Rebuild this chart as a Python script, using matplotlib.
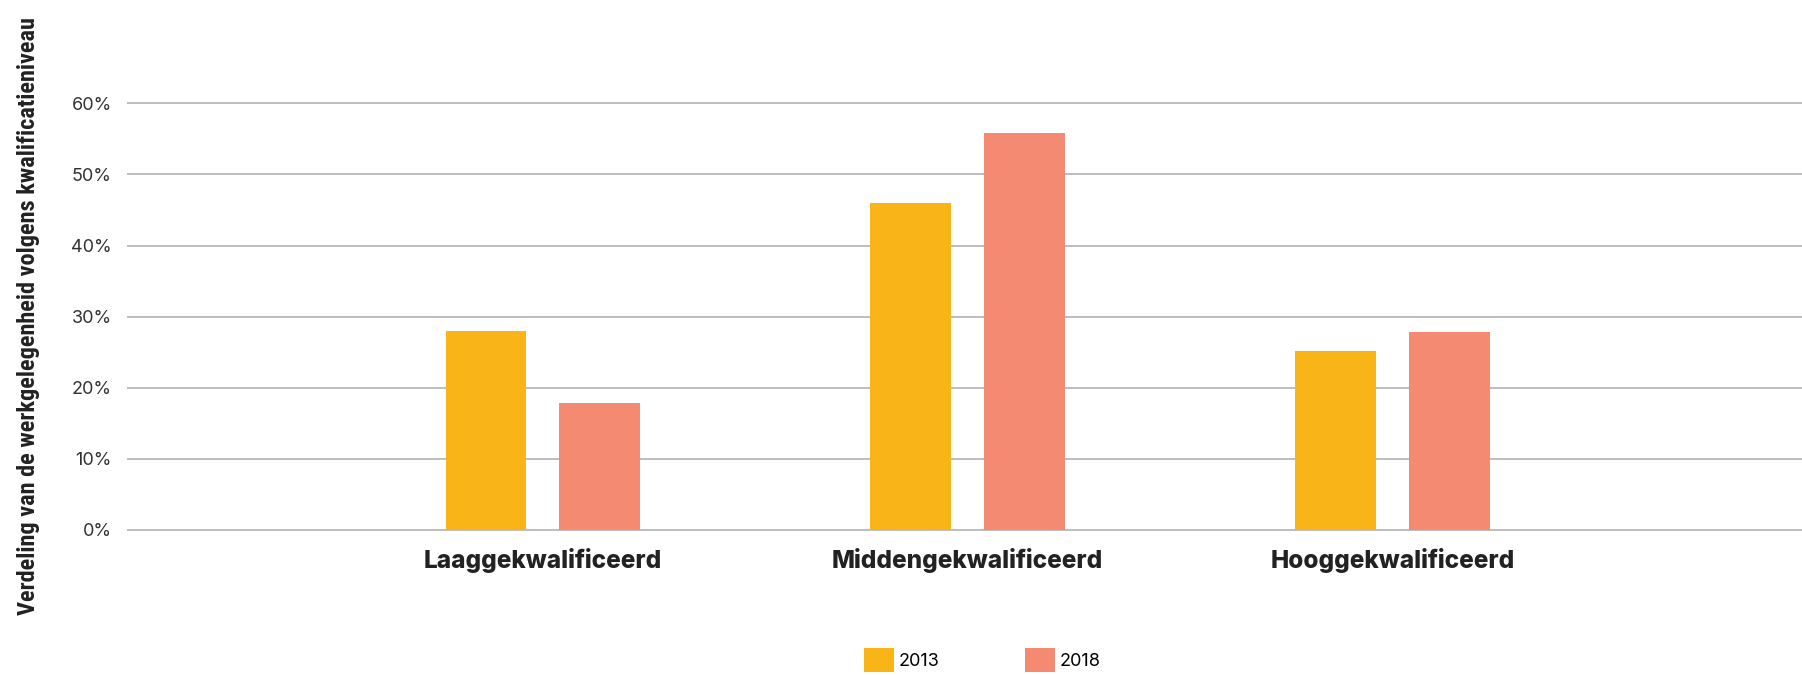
import matplotlib
matplotlib.use("Agg")
import matplotlib.pyplot as plt
from matplotlib.patches import Patch
import numpy as np

categories = ["Laaggekwalificeerd", "Middengekwalificeerd", "Hooggekwalificeerd"]
series_names = ["2013", "2018"]
values_2013 = [28.0, 46.0, 25.2]
values_2018 = [17.8, 55.8, 27.8]
y_ticks = [0, 10, 20, 30, 40, 50, 60]
y_tick_labels = ["0%", "10%", "20%", "30%", "40%", "50%", "60%"]
y_label = "Verdeling van de werkgelegenheid volgens kwalificatieniveau"

colors = ["#F9B418", "#F48A72"]
W, H = 1802, 675
fig = plt.figure(figsize=(W / 100, H / 100), dpi=100)

ax = fig.add_axes([127 / W, 1 - 537.1 / H, 1 - 127 / W, (537.1 - 96.2) / H])
x = np.arange(len(categories))
bw = 0.19
off = 0.134
ax.bar(x - off, values_2013, bw, color=colors[0], zorder=3)
ax.bar(x + off, values_2018, bw, color=colors[1], zorder=3)

ax.set_xlim(-0.979, 2.964)
ax.set_ylim(-1, 61)
ax.set_yticks(y_ticks)
ax.set_yticklabels(y_tick_labels, family=["Inter", "DejaVu Sans"], fontsize=13, color="#333333")
ax.set_xticks(x)
ax.set_xticklabels(categories, family=["Inter", "DejaVu Sans"], fontsize=17.5, fontweight=800, color="#222222")
ax.tick_params(axis="both", length=0)
ax.tick_params(axis="y", pad=11)
ax.tick_params(axis="x", pad=8)
ax.grid(axis="y", color="#BDBDBD", linewidth=1.4, zorder=0)
for s in ax.spines.values():
    s.set_visible(False)

fig.text(29 / W, 1 - 316 / H, y_label, rotation=90, ha="center", va="center",
         family=["Roboto Condensed", "Roboto", "DejaVu Sans"], fontweight="bold",
         fontstretch="condensed", fontsize=17.5, color="#222222")

handles = [Patch(facecolor=colors[0]), Patch(facecolor=colors[1])]
fs = 13
fpx = fs * 100 / 72
fig.legend(handles, series_names, loc="upper left", bbox_to_anchor=(864 / W, 1 - 648 / H),
           ncol=2, frameon=False, borderpad=0, borderaxespad=0,
           handlelength=30 / fpx, handleheight=30 / fpx, handletextpad=5 / fpx, columnspacing=85 / fpx,
           prop={"family": ["Inter", "DejaVu Sans"], "size": fs})

fig.savefig("out.png", dpi=100, facecolor="white")
